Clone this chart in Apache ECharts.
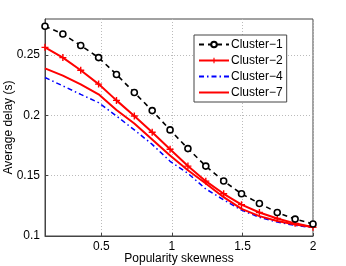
<!DOCTYPE html>
<html><head><meta charset="utf-8">
<script src="https://cdn.jsdelivr.net/npm/echarts@6/dist/echarts.min.js"></script>
<style>html,body{margin:0;padding:0;background:#fff}#c{width:346px;height:266px}</style>
</head><body><div id="c"></div>
<script>
const xs = [0.1, 0.2267, 0.3533, 0.48, 0.6067, 0.7333, 0.86, 0.9867, 1.1133, 1.24, 1.3667, 1.4933, 1.62, 1.7467, 1.8733, 2.0];
const cluster1 = [0.274, 0.2675, 0.258, 0.248, 0.234, 0.219, 0.204, 0.188, 0.1725, 0.158, 0.1456, 0.135, 0.127, 0.1195, 0.114, 0.110];
const cluster2 = [0.2565, 0.248, 0.2375, 0.226, 0.2125, 0.1995, 0.186, 0.172, 0.158, 0.1455, 0.135, 0.126, 0.1195, 0.1145, 0.1105, 0.1072];
const cluster4 = [0.2315, 0.2245, 0.2175, 0.2106, 0.1995, 0.188, 0.176, 0.162, 0.152, 0.139, 0.130, 0.1215, 0.1155, 0.1115, 0.1088, 0.107];
const cluster7 = [0.239, 0.233, 0.2258, 0.2175, 0.2045, 0.1933, 0.180, 0.1667, 0.1545, 0.1435, 0.1322, 0.1225, 0.1165, 0.1125, 0.1095, 0.1075];
const xTicks = [0.5, 1, 1.5, 2];
const yTicks = [0.1, 0.15, 0.2, 0.25];
const names = ['Cluster\u22121', 'Cluster\u22122', 'Cluster\u22124', 'Cluster\u22127'];

const pair = arr => xs.map((x, i) => [x, arr[i]]);
const font = 'Liberation Sans, Arial, sans-serif';
const chart = echarts.init(document.getElementById('c'));
chart.setOption({
  animation: false,
  textStyle: {fontFamily: font},
  grid: {left: 45, right: 33, top: 19, bottom: 30, show: true, borderColor: '#444', borderWidth: 1,
         containLabel: false, outerBoundsMode: 'none'},
  xAxis: {
    type: 'value', min: 0.1, max: 2,
    name: 'Popularity skewness', nameLocation: 'middle', nameGap: 17, nameMoveOverlap: false,
    nameTextStyle: {fontSize: 12, color: '#000', fontFamily: font, verticalAlign: 'top'},
    axisLine: {show: true, onZero: false, lineStyle: {color: '#444'}},
    axisTick: {show: true, inside: true, length: 3, customValues: xTicks, lineStyle: {color: '#444'}},
    axisLabel: {customValues: xTicks, fontSize: 12, color: '#000', margin: 5, fontFamily: font},
    splitLine: {show: true, lineStyle: {color: '#bbb', type: [1, 2]}}
  },
  yAxis: {
    type: 'value', min: 0.1, max: 0.28,
    name: 'Average delay (s)', nameLocation: 'middle', nameGap: 30, nameMoveOverlap: false,
    nameTextStyle: {fontSize: 12, color: '#000', fontFamily: font},
    axisLine: {show: true, onZero: false, lineStyle: {color: '#444'}},
    axisTick: {show: true, inside: true, length: 3, customValues: yTicks, lineStyle: {color: '#444'}},
    axisLabel: {customValues: yTicks, fontSize: 12, color: '#000', margin: 5, fontFamily: font},
    splitLine: {show: true, lineStyle: {color: '#bbb', type: [1, 2]}}
  },
  legend: {
    orient: 'vertical', left: 194, top: 35, padding: [3, 4, 3, 4], itemGap: 3,
    itemWidth: 30, itemHeight: 7,
    borderColor: '#444', borderWidth: 1, backgroundColor: '#fff',
    textStyle: {fontSize: 12, color: '#000', fontFamily: font, padding: [0, 0, 0, -3], lineHeight: 13},
    data: [
      {name: names[0]},
      {name: names[1]},
      {name: names[2], itemStyle: {opacity: 0}},
      {name: names[3], itemStyle: {opacity: 0}}
    ]
  },
  series: [
    {name: names[0], type: 'line', data: pair(cluster1), symbol: 'circle', symbolSize: 6,
     lineStyle: {color: '#000', width: 1.6, type: [5, 4]},
     itemStyle: {color: '#fff', borderColor: '#000', borderWidth: 1.6}, z: 5},
    {name: names[1], type: 'line', data: pair(cluster2),
     symbol: 'path://M4,0H6V4H10V6H6V10H4V6H0V4H4Z', symbolSize: 7,
     lineStyle: {color: '#f00', width: 2}, itemStyle: {color: '#f00'}, z: 4},
    {name: names[2], type: 'line', data: pair(cluster4), symbol: 'none',
     lineStyle: {color: '#00f', width: 1.5, type: [5, 3, 1.5, 3]}, itemStyle: {color: '#00f'}, z: 3},
    {name: names[3], type: 'line', data: pair(cluster7), symbol: 'none',
     lineStyle: {color: '#f00', width: 2}, itemStyle: {color: '#f00'}, z: 3}
  ]
});
</script></body></html>
